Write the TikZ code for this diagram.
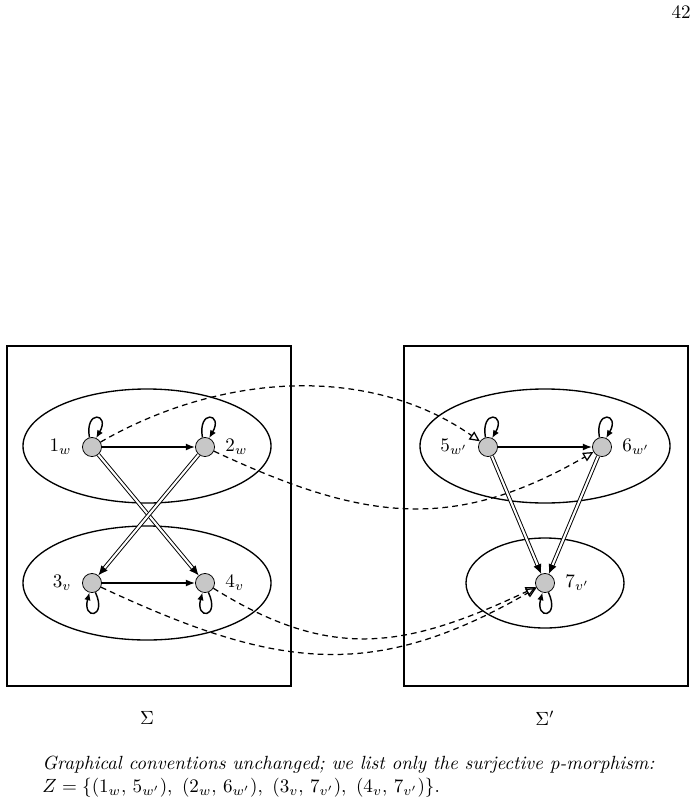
\documentclass[tikz,border=0pt]{standalone}
\usepackage{amsmath,amssymb}
\usetikzlibrary{arrows.meta,positioning}
\tikzset{
  world/.style={circle,draw,thin,fill=black!22,minimum size=10pt,inner sep=0pt},
  frame/.style={line width=.7pt},
  rel/.style={line width=.75pt,-{Latex[length=4.8pt,width=3.6pt]}},
  dbl/.style={double,double distance=1.1pt,line width=.5pt,-{Latex[length=5pt,width=4.4pt]}},
  zmap/.style={line width=.65pt,dash pattern=on 3pt off 2.2pt,-{Triangle[open,length=5.4pt,width=5pt]}},
  refl/.style={line width=.75pt,-{Latex[length=4pt,width=3.4pt]},min distance=15pt}
}
\begin{document}
\begin{tikzpicture}[x=.524pt,y=-.524pt]
\useasboundingbox (0,0) rectangle (699,802);
\node[anchor=north east,inner sep=0pt] (pg) at (691,5){42};
% frames and clusters
\draw[frame] (7,346) rectangle (291,686);\draw[frame] (404,346) rectangle (688,686);
\draw[frame] (147,446) ellipse (124 and 57);\draw[frame] (147,583) ellipse (124 and 57);
\draw[frame] (545,446) ellipse (125 and 57);\draw[frame] (545,583) ellipse (79 and 45);
% worlds of Sigma
\node[world] (w1) at (92,447){};\node[world] (w2) at (205,447){};
\node[world] (v3) at (92,583){};\node[world] (v4) at (205,583){};
\node[left=2pt of w1]{$1_w$};\node[right=2pt of w2]{$2_w$};
\node[left=2pt of v3]{$3_v$};\node[right=2pt of v4]{$4_v$};
% worlds of Sigma'
\node[world] (w5) at (488,447){};\node[world] (w6) at (602,447){};\node[world] (v7) at (545,583){};
\node[left=2pt of w5]{$5_{w'}$};\node[right=2pt of w6]{$6_{w'}$};\node[right=2pt of v7]{$7_{v'}$};
% relations
\draw[rel] (w1)--(w2);\draw[rel] (v3)--(v4);\draw[rel] (w5)--(w6);
\draw[dbl] (w1)--(v4);\draw[dbl] (w2)--(v3);\draw[dbl] (w5)--(v7);\draw[dbl] (w6)--(v7);
\foreach \n in {w1,w2,w5,w6}{\draw[refl] (\n.105) to[out=100,in=60] (\n.65);}
\foreach \n in {v3,v4,v7}{\draw[refl] (\n.-70) to[out=-65,in=-105] (\n.-105);}
% the p-morphism
\draw[zmap] (w1) to[out=30,in=145,looseness=.92] (w5);
\draw[zmap] (w2) to[out=-25,in=210,looseness=1.1] (w6);
\draw[zmap] (v3) to[out=-25,in=210,looseness=1.12] (v7);
\draw[zmap] (v4) to[out=-32,in=205,looseness=1.12] (v7);
\node (s1) at (147,718){$\Sigma$};\node (s2) at (545,718){$\Sigma'$};
\node[anchor=north west,align=left,inner sep=0pt] (cap) at (42,756){\textit{Graphical conventions unchanged; we list only the surjective p-morphism:}\\
$Z=\{(1_w,\,5_{w'}),\ (2_w,\,6_{w'}),\ (3_v,\,7_{v'}),\ (4_v,\,7_{v'})\}$.};
\end{tikzpicture}
\end{document}
